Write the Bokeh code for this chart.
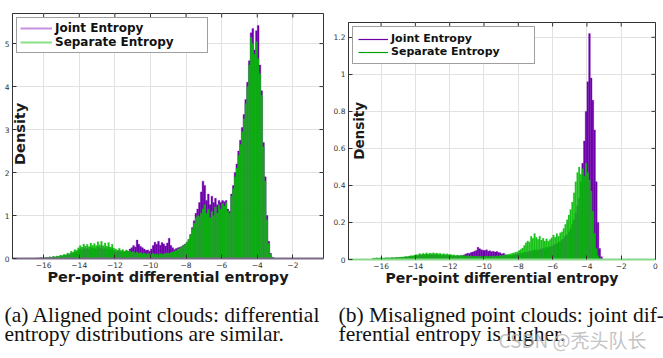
import numpy as np
from bokeh.plotting import figure
from bokeh.models import (ColumnDataSource, Label, Legend, LegendItem,
                          FixedTicker, Range1d, CustomJSTickFormatter)
from bokeh.layouts import row, column
from bokeh.core.properties import value
from bokeh.embed import file_html
from bokeh.resources import INLINE

# ---------------- data ----------------
bin_first_edge = -16.5
bin_width = 0.1

aligned_joint = [
    0.01, 0.01, 0.01, 0.02, 0.01,
    0.01, 0.02, 0.02, 0.03, 0.02, 0.04, 0.03, 0.05, 0.04, 0.06,
    0.06, 0.08, 0.07, 0.10, 0.09, 0.13, 0.12, 0.16, 0.15, 0.19,
    0.22, 0.20, 0.25, 0.22, 0.24, 0.21, 0.26, 0.23, 0.25, 0.22,
    0.27, 0.23, 0.28, 0.22, 0.25, 0.21, 0.26, 0.20, 0.24, 0.18,
    0.17, 0.16, 0.19, 0.15, 0.17, 0.15, 0.18, 0.17, 0.22, 0.25,
    0.30, 0.27, 0.43, 0.33, 0.28, 0.25, 0.22, 0.19, 0.20, 0.17,
    0.22, 0.30, 0.38, 0.33, 0.40, 0.31, 0.37, 0.34, 0.29, 0.36,
    0.47, 0.30, 0.25, 0.21, 0.23, 0.25, 0.26, 0.28, 0.31, 0.34,
    0.38, 0.44, 0.56, 0.72, 0.88, 1.05, 1.15, 1.30, 1.55, 1.80,
    1.70, 1.35, 1.50, 1.25, 1.45, 1.30, 1.40, 1.25, 1.35, 1.30,
    1.35, 1.32, 1.35, 1.15, 1.10, 1.50, 1.70, 2.00, 2.20, 2.50,
    2.75, 3.05, 3.35, 3.70, 4.10, 4.60, 5.25, 5.35, 4.85, 5.30,
    5.42, 4.50, 3.90, 2.70, 1.90, 1.00, 0.40, 0.12, 0.03, 0.01,
]
aligned_separate = [
    0.01, 0.01, 0.01, 0.02, 0.01,
    0.02, 0.03, 0.02, 0.04, 0.03, 0.05, 0.04, 0.06, 0.05, 0.08,
    0.07, 0.10, 0.09, 0.13, 0.11, 0.17, 0.15, 0.21, 0.19, 0.25,
    0.30, 0.27, 0.34, 0.29, 0.33, 0.28, 0.36, 0.31, 0.35, 0.30,
    0.39, 0.32, 0.40, 0.30, 0.36, 0.29, 0.37, 0.27, 0.33, 0.24,
    0.22, 0.20, 0.24, 0.19, 0.21, 0.17, 0.20, 0.16, 0.18, 0.15,
    0.16, 0.13, 0.15, 0.12, 0.14, 0.11, 0.13, 0.10, 0.12, 0.11,
    0.10, 0.12, 0.10, 0.11, 0.09, 0.12, 0.10, 0.11, 0.12, 0.13,
    0.12, 0.14, 0.15, 0.17, 0.19, 0.22, 0.24, 0.27, 0.30, 0.33,
    0.38, 0.45, 0.55, 0.70, 0.82, 0.95, 1.00, 0.98, 1.05, 1.15,
    1.25, 1.05, 1.15, 0.95, 1.10, 1.00, 1.20, 1.05, 1.25, 1.15,
    1.28, 1.22, 1.30, 1.10, 1.05, 1.45, 1.62, 1.90, 2.10, 2.40,
    2.65, 2.95, 3.25, 3.60, 4.00, 4.50, 5.15, 5.00, 4.75, 5.05,
    4.65, 4.30, 3.80, 2.60, 1.80, 0.90, 0.35, 0.10, 0.03, 0.01,
]
misaligned_joint = [
    0.006, 0.006, 0.007, 0.006, 0.007,
    0.007, 0.006, 0.008, 0.007, 0.008, 0.007, 0.009, 0.008, 0.009, 0.010,
    0.010, 0.011, 0.012, 0.012, 0.014, 0.013, 0.016, 0.017, 0.016, 0.019,
    0.021, 0.020, 0.025, 0.022, 0.026, 0.023, 0.027, 0.024, 0.026, 0.025,
    0.027, 0.024, 0.026, 0.023, 0.025, 0.022, 0.024, 0.021, 0.023, 0.020,
    0.021, 0.019, 0.020, 0.018, 0.020, 0.019, 0.021, 0.022, 0.025, 0.030,
    0.034, 0.032, 0.038, 0.040, 0.045, 0.048, 0.066, 0.058, 0.052, 0.050,
    0.048, 0.052, 0.045, 0.047, 0.042, 0.044, 0.040, 0.043, 0.038, 0.036,
    0.030, 0.034, 0.025, 0.022, 0.024, 0.021, 0.023, 0.025, 0.027, 0.029,
    0.031, 0.034, 0.033, 0.038, 0.040, 0.039, 0.045, 0.044, 0.049, 0.050,
    0.052, 0.049, 0.057, 0.055, 0.061, 0.058, 0.066, 0.063, 0.069, 0.072,
    0.075, 0.082, 0.084, 0.092, 0.097, 0.106, 0.114, 0.126, 0.133, 0.150,
    0.165, 0.190, 0.215, 0.250, 0.290, 0.330, 0.420, 0.520, 0.640, 0.800,
    0.960, 1.220, 0.980, 0.860, 0.700, 0.420, 0.200, 0.060, 0.015, 0.003,
]
misaligned_separate = [
    0.008, 0.008, 0.009, 0.008, 0.009,
    0.009, 0.008, 0.010, 0.009, 0.010, 0.009, 0.011, 0.010, 0.011, 0.012,
    0.012, 0.013, 0.014, 0.015, 0.017, 0.016, 0.019, 0.021, 0.020, 0.024,
    0.027, 0.025, 0.032, 0.028, 0.034, 0.030, 0.036, 0.031, 0.035, 0.033,
    0.036, 0.032, 0.035, 0.031, 0.034, 0.029, 0.033, 0.028, 0.031, 0.027,
    0.028, 0.024, 0.026, 0.022, 0.024, 0.021, 0.023, 0.020, 0.022, 0.019,
    0.021, 0.018, 0.020, 0.017, 0.019, 0.016, 0.018, 0.017, 0.016, 0.018,
    0.017, 0.019, 0.016, 0.018, 0.017, 0.019, 0.018, 0.020, 0.019, 0.021,
    0.022, 0.024, 0.023, 0.027, 0.029, 0.031, 0.034, 0.036, 0.039, 0.042,
    0.048, 0.055, 0.062, 0.075, 0.090, 0.100, 0.095, 0.125, 0.115, 0.140,
    0.120, 0.110, 0.125, 0.105, 0.115, 0.100, 0.112, 0.098, 0.108, 0.118,
    0.132, 0.120, 0.140, 0.125, 0.145, 0.150, 0.168, 0.190, 0.215, 0.240,
    0.270, 0.310, 0.360, 0.420, 0.470, 0.500, 0.460, 0.490, 0.450, 0.520,
    0.470, 0.430, 0.370, 0.260, 0.140, 0.060, 0.020, 0.006, 0.003, 0.001,
]

left_xticks = [-16, -14, -12, -10, -8, -6, -4, -2]
right_xticks = [-16, -14, -12, -10, -8, -6, -4, -2, 0]
left_yticks = [0, 1, 2, 3, 4, 5]
right_yticks = [0, 0.2, 0.4, 0.6, 0.8, 1.0, 1.2]

x_label = "Per-point differential entropy"
y_label = "Density"
series_names = ["Joint Entropy", "Separate Entropy"]
caption_a = ["(a) Aligned point clouds: differential", "entropy distributions are similar."]
caption_b = ["(b) Misaligned point clouds: joint dif-", "ferential entropy is higher."]
watermark = "CSDN @\u79c3\u5934\u961f\u957f"

PURPLE = "#6e00aa"
GREEN = "#00bb00"
PLOT_H = 300
CAP_H = 58


def style_axis(ax, ticks):
    ax.ticker = FixedTicker(ticks=ticks)
    ax.axis_line_color = "#333333"
    ax.major_tick_in = 4
    ax.major_tick_out = 0
    ax.minor_tick_in = 0
    ax.minor_tick_out = 0
    ax.major_tick_line_color = "#333333"
    ax.major_label_text_font = "DejaVu Sans"
    ax.major_label_text_color = "#333333"
    ax.major_label_text_font_size = "7.5px"
    ax.major_label_standoff = 3


def panel(joint, separate, xr, yr, xticks, yticks, width, borders,
          legend_cfg, density_cfg, xlabel_size, base_color):
    n = len(joint)
    lefts = bin_first_edge + bin_width * np.arange(n)
    src = ColumnDataSource(dict(left=lefts, right=lefts + bin_width,
                                joint=joint, sep=separate))
    bl, br, bt, bb = borders
    p = figure(width=width, height=PLOT_H, x_range=Range1d(*xr), y_range=Range1d(*yr),
               output_backend="svg", toolbar_location=None, title=None,
               min_border_left=bl, min_border_right=br,
               min_border_top=bt, min_border_bottom=bb)
    p.frame_align = False
    p.outline_line_color = "#333333"
    p.xgrid.grid_line_color = "#e2e2e2"
    p.ygrid.grid_line_color = "#e2e2e2"

    p.quad(left="left", right="right", bottom=0, top="joint", source=src,
           fill_color=PURPLE, line_color=PURPLE, line_width=0.3)
    p.quad(left="left", right="right", bottom=0, top="sep", source=src,
           fill_color=GREEN, fill_alpha=0.9, line_color="#2fc82f",
           line_alpha=0.8, line_width=0.25)

    # inward tick marks on the top and right edges of the box
    p.ray(x=xticks, y=[yr[1]] * len(xticks), length=4, length_units="screen",
          angle=-np.pi / 2, line_color="#333333", line_width=1)
    p.ray(x=[xr[1]] * len(yticks), y=yticks, length=4, length_units="screen",
          angle=np.pi, line_color="#333333", line_width=1)

    style_axis(p.xaxis[0], xticks)
    style_axis(p.yaxis[0], yticks)
    p.yaxis[0].formatter = CustomJSTickFormatter(
        code="return (Math.round(tick*10)/10).toString();")
    p.xaxis[0].axis_line_color = base_color
    p.xaxis[0].axis_line_width = 2
    p.xaxis[0].axis_label = x_label
    p.xaxis[0].axis_label_text_font = "DejaVu Sans"
    p.xaxis[0].axis_label_text_font_style = "bold"
    p.xaxis[0].axis_label_text_font_size = xlabel_size
    p.xaxis[0].axis_label_text_color = "#1a1a1a"
    p.xaxis[0].axis_label_standoff = -2

    # legend (line glyphs, nothing drawn in the plot)
    lc, lw, fs, gw, lwid, pad = legend_cfg
    r1 = p.line(x=[np.nan], y=[np.nan], line_color=lc[0], line_width=lw)
    r2 = p.line(x=[np.nan], y=[np.nan], line_color=lc[1], line_width=lw)
    leg = Legend(items=[LegendItem(label=series_names[0], renderers=[r1]),
                        LegendItem(label=series_names[1], renderers=[r2])],
                 location="top_left", margin=4, padding=pad, spacing=0,
                 glyph_width=gw, glyph_height=12, label_height=12,
                 label_width=lwid, label_standoff=3,
                 border_line_color="#404040", border_line_width=1,
                 background_fill_color="white", background_fill_alpha=1,
                 label_text_font="DejaVu Sans", label_text_font_style="bold",
                 label_text_font_size=fs, label_text_color="#111111")
    p.add_layout(leg)

    dx, dy, dsize = density_cfg
    p.add_layout(Label(x=dx, y=dy, text=y_label, angle=np.pi / 2,
                       text_align="center", text_baseline="middle",
                       text_font="DejaVu Sans", text_font_style="bold",
                       text_font_size=dsize, text_color="#1a1a1a"))
    return p


p1 = panel(aligned_joint, aligned_separate, (-17.75, -0.28), (0, 5.7),
           left_xticks, left_yticks, 330, (12, 7, 13, PLOT_H - 258),
           (["#c890e0", "#88e088"], 2, "12px", 32, 149, 3),
           (-17.31, 2.9, "14.5px"), "14.5px", "#7a6a86")
p2 = panel(misaligned_joint, misaligned_separate, (-17.9, 0), (0, 1.28),
           right_xticks, right_yticks, 333, (18, 8, 22, PLOT_H - 259),
           ([PURPLE, "#00a000"], 1.2, "11px", 30, 138, 5),
           (-17.27, 0.695, "13.5px"), "14px", "#8ad88a")

# ---- caption strip (page pixel coordinates) ----
cap = figure(width=663, height=CAP_H, x_range=Range1d(0, 663),
             y_range=Range1d(PLOT_H + CAP_H, PLOT_H), title=None,
             x_axis_type=None, y_axis_type=None, output_backend="svg",
             toolbar_location=None, min_border=0)
cap.frame_align = False
cap.outline_line_color = None
cap.xgrid.visible = False
cap.ygrid.visible = False
cap_src = ColumnDataSource(dict(
    x=[4, 4, 338, 338],
    y=[314, 333, 314, 333],
    text=caption_a + caption_b,
))
cap.text(x="x", y="y", text="text", source=cap_src,
         text_font=value("Liberation Serif"), text_font_size="21.5px",
         text_color="#111111", text_baseline="alphabetic", text_align="left")
cap.text(x=[498], y=[339], text=[watermark], text_font=value("Noto Sans CJK SC"),
         text_font_size="19px", text_color="#b4b4b4", text_alpha=0.8,
         text_baseline="alphabetic", text_align="left")

layout = column(row(p1, p2), cap)
open("out.html", "w").write(file_html(layout, INLINE))
